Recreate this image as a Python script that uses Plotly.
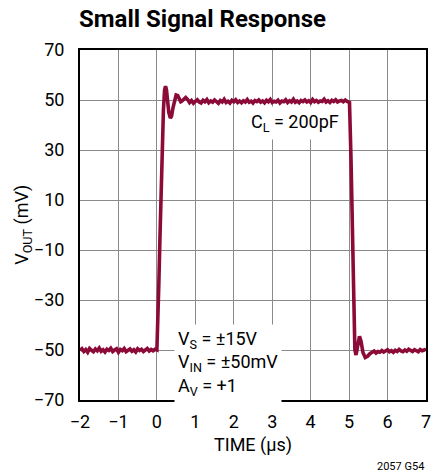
import plotly.graph_objects as go

# ---------------- data ----------------
# low baseline, sampled every 0.05 us from -2.0 to 0.0
low_start, low_step = -2.0, 0.05
low_v = [-50.2, -49.5, -50.6, -49.8, -50.9, -49.4, -50.1, -50.7, -49.6, -50.3,
         -49.2, -50.5, -49.9, -50.8, -49.7, -50.2, -49.3, -50.6, -50.0, -49.5,
         -50.9, -49.8, -50.3, -49.4, -50.7, -50.1, -49.6, -50.5, -49.9, -50.8,
         -49.5, -50.2, -49.7, -50.6, -50.0, -49.4, -50.4, -49.8, -50.3, -49.7]

# rising edge and ringing
rise_t = [0.00, 0.02, 0.05, 0.08, 0.11, 0.14, 0.17, 0.20, 0.225, 0.25,
          0.28, 0.31, 0.35, 0.38, 0.42, 0.46, 0.50, 0.54, 0.58, 0.62]
rise_v = [-50.0, -42.0, -24.0, -5.0, 14.0, 32.0, 46.0, 54.0, 55.5, 54.0,
          49.0, 45.0, 42.8, 43.5, 47.0, 50.5, 52.0, 51.8, 50.2, 49.3]

# high plateau, every 0.05 us from 0.65 to 5.00
high_start, high_step = 0.65, 0.05
high_v = [49.6, 50.4, 51.0, 50.2, 49.0, 49.8, 48.7, 49.5, 50.1, 49.2,
          48.8, 49.9, 49.3, 50.2, 48.9, 49.6, 49.1, 50.0, 49.4, 48.7,
          49.8, 49.2, 50.3, 49.0, 49.5, 48.8, 49.9, 49.3, 50.1, 49.0,
          49.6, 48.9, 49.7, 49.2, 50.2, 49.1, 49.5, 48.8, 49.8, 49.4,
          50.0, 49.1, 49.6, 48.9, 49.9, 49.3, 50.2, 49.0, 49.5, 49.2,
          49.9, 48.8, 49.6, 49.3, 50.1, 49.0, 49.7, 49.2, 50.3, 49.1,
          49.6, 48.9, 49.8, 49.4, 50.0, 49.2, 49.7, 49.0, 50.2, 49.3,
          49.8, 49.1, 49.6, 49.4, 50.3, 49.2, 49.7, 49.0, 49.9, 49.4,
          50.1, 49.2, 49.6, 49.8, 49.3, 50.0, 49.4, 49.2]

# falling edge and ringing
fall_t = [5.01, 5.05, 5.11, 5.15, 5.18, 5.22, 5.27, 5.31, 5.36, 5.42,
          5.48, 5.54, 5.60]
fall_v = [49.0, 26.0, -30.0, -50.0, -52.0, -49.0, -44.5, -46.5, -51.0, -53.0,
          -52.5, -51.5, -51.0]

# tail baseline, every 0.05 us from 5.65 to 7.00
tail_start, tail_step = 5.65, 0.05
tail_v = [-50.4, -51.2, -50.6, -50.9, -50.2, -50.8, -50.5, -49.9, -50.7, -50.3,
          -50.9, -50.1, -50.6, -49.8, -50.4, -50.7, -50.0, -50.5, -49.7, -50.3,
          -50.6, -49.9, -50.2, -50.7, -49.8, -50.3, -50.0, -49.6]

x_ticks = [-2, -1, 0, 1, 2, 3, 4, 5, 6, 7]
y_ticks = [-70, -50, -30, -10, 10, 30, 50, 70]

# ---------------- build trace ----------------
t, v = [], []
for i, val in enumerate(low_v):
    t.append(low_start + i * low_step); v.append(val)
t += rise_t; v += rise_v
for i, val in enumerate(high_v):
    t.append(high_start + i * high_step); v.append(val)
t += fall_t; v += fall_v
for i, val in enumerate(tail_v):
    t.append(tail_start + i * tail_step); v.append(val)

FONT = "Roboto, Liberation Sans, sans-serif"
RED = "rgb(140,10,55)"

# plot area in pixels
L, R, T, B = 80, 431, 50, 400
W, H = 433, 473


def px(x):
    return (x - L) / (R - L)


def py(y):
    return (B - y) / (B - T)


fig = go.Figure()
fig.add_trace(go.Scatter(x=t, y=v, mode="lines",
                         line=dict(color=RED, width=3.6, shape="linear"),
                         hoverinfo="skip", showlegend=False))

axis_common = dict(showgrid=True, gridcolor="#8a8a8a", gridwidth=1.2,
                   showline=True, linecolor="black", linewidth=2, mirror=True,
                   zeroline=False, ticks="", ticklabeloverflow="allow",
                   tickfont=dict(family=FONT, size=18, color="black"))

fig.update_xaxes(range=[-2, 7], tickvals=x_ticks, ticklabelstandoff=4, **axis_common)
fig.update_yaxes(range=[-70, 70], tickvals=y_ticks, ticklabelstandoff=10, **axis_common)

fig.update_layout(
    width=W, height=H,
    margin=dict(l=L, r=W - R, t=T, b=H - B),
    plot_bgcolor="white", paper_bgcolor="white",
    font=dict(family=FONT, color="black"),
    annotations=[
        dict(text="<b>Small Signal Response</b>", xref="paper", yref="paper",
             x=px(77), y=py(19), xanchor="left", yanchor="middle",
             showarrow=False, font=dict(family=FONT, size=24, color="black")),
        dict(text="V<sub>OUT</sub> (mV)", xref="paper", yref="paper",
             x=px(22), y=py(225), xanchor="center", yanchor="middle", textangle=-90,
             showarrow=False, font=dict(family=FONT, size=18)),
        dict(text="TIME (µs)", xref="paper", yref="paper",
             x=px(256), y=py(445), xanchor="center", yanchor="middle",
             showarrow=False, font=dict(family=FONT, size=18)),
        dict(text="C<sub>L</sub> = 200pF", xref="paper", yref="paper",
             x=px(298), y=py(123), xanchor="center", yanchor="middle",
             showarrow=False, bgcolor="white", borderpad=4,
             font=dict(family=FONT, size=18)),
        dict(text="V<sub>S</sub> = ±15V<br>V<sub>IN</sub> = ±50mV<br>A<sub>V</sub> = +1",
             xref="paper", yref="paper", x=px(175), y=py(363),
             xanchor="left", yanchor="middle", align="left",
             showarrow=False, bgcolor="white", borderpad=3,
             font=dict(family=FONT, size=18)),
        dict(text="2057 G54", xref="paper", yref="paper",
             x=px(431), y=py(466), xanchor="right", yanchor="middle",
             showarrow=False, font=dict(family=FONT, size=11)),
    ],
)

fig.write_html("out.html", config={"displayModeBar": False},
               post_script="document.body.style.margin='0';")
